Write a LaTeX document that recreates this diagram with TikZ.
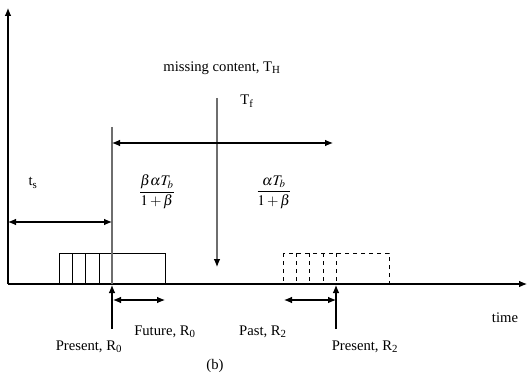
\documentclass[tikz,border=0pt]{standalone}
\usepackage{mathptmx}
\usepackage{fontspec}
\setmainfont{Liberation Serif}
\usetikzlibrary{arrows.meta,positioning}
\definecolor{guidegray}{RGB}{110,110,110}

\begin{document}
\begin{tikzpicture}[x=0.75pt, y=-0.75pt, >={Latex[length=6pt,width=5pt]}, every node/.style={font=\fontsize{11}{13}\selectfont, inner sep=1pt}]
    \useasboundingbox (0,0) rectangle (528,381);
    % axes
    \coordinate (origin) at (8,284);
    \coordinate (ytop) at (8,8);
    \coordinate (xend) at (527,284);
    \draw[->, thick] (origin) -- (ytop);
    \draw[->, thick] (origin) -- (xend);
    % buffered blocks
    \draw[semithick] (59,253) rectangle (165,284);
    \foreach \x in {72.3,85.6,98.9} \draw[semithick] (\x,253) -- (\x,284);
    \draw[semithick, dashed] (283,253) rectangle (389,284);
    \foreach \x in {296.3,309.6,322.9,336.2} \draw[semithick, dashed] (\x,253) -- (\x,284);
    % guide lines
    \coordinate (presA) at (112,284);
    \coordinate (presAtop) at (112,127);
    \coordinate (presB) at (336,284);
    \coordinate (gapTop) at (217,98);
    \coordinate (gapEnd) at (217,267);
    \draw[guidegray, thick] (presAtop) -- (presA);
    \draw[-{Latex[length=6pt,width=5pt,black]}, guidegray, thick] (gapTop) -- (gapEnd);
    % spans
    \coordinate (tfL) at (112,143);
    \coordinate (tfR) at (333,143);
    \draw[<->, thick] (tfL) -- (tfR);
    \coordinate (tsL) at (8,222);
    \coordinate (tsR) at (112,222);
    \draw[<->, thick] (tsL) -- (tsR);
    \coordinate (futL) at (113,300);
    \coordinate (futR) at (165,300);
    \draw[<->, thick] (futL) -- (futR);
    \coordinate (pastL) at (284,300);
    \coordinate (pastR) at (336,300);
    \draw[<->, thick] (pastL) -- (pastR);
    \coordinate (presAbot) at (112,329);
    \coordinate (presBbot) at (336,329);
    \draw[->, thick] (presAbot) -- (112,285);
    \draw[->, thick] (presBbot) -- (336,285);
    % labels
    \node (missing) at (222,68) {missing content, T\textsubscript{H}};
    \node (tf) at (247,101) {T\textsubscript{f}};
    \node (ts) at (33,183) {t\textsubscript{s}};
    \node (fracA) at (157,192) {$\displaystyle\frac{\beta\alpha T_b}{1+\beta}$};
    \node (fracB) at (274,192) {$\displaystyle\frac{\alpha T_b}{1+\beta}$};
    \node (future) at (165,332) {Future, R\textsubscript{0}};
    \node (presentA) at (89,347) {Present, R\textsubscript{0}};
    \node (past) at (263,332) {Past, R\textsubscript{2}};
    \node (presentB) at (365,347) {Present, R\textsubscript{2}};
    \node (time) at (505,318) {time};
    \node (caption) at (215,366) {(b)};
\end{tikzpicture}
\end{document}
